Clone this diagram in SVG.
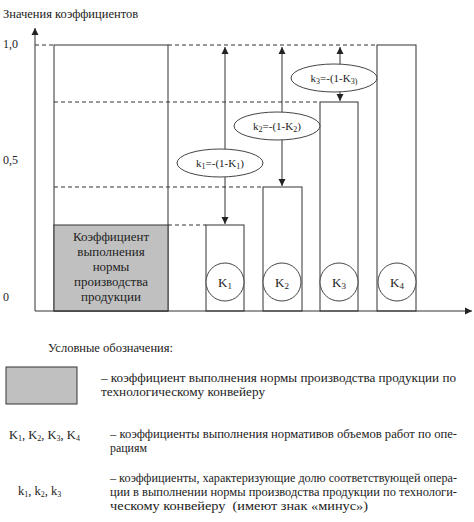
<svg xmlns="http://www.w3.org/2000/svg" width="474" height="522" viewBox="0 0 474 522" font-family="'Liberation Serif', 'Times New Roman', serif">
<style>
text{fill:#222}
.bx{stroke:#333;stroke-width:1;fill:#fff}
.ds{stroke:#333;stroke-width:1;stroke-dasharray:4,3;fill:none}
.ar{stroke:#333;stroke-width:1;fill:none;marker-end:url(#ah)}
.el{stroke:#444;stroke-width:1;fill:#fff}
.lab{font-size:11px;text-anchor:middle}
.kc{font-size:13px;text-anchor:middle}
.lg{font-size:12px}
</style>
<defs>
<marker id="ah" markerWidth="8" markerHeight="8" refX="7" refY="4" orient="auto" markerUnits="userSpaceOnUse">
<path d="M0,0.5 L7,4 L0,7.5 Z" fill="#222"/>
</marker>
</defs>
<rect width="474" height="522" fill="#fff"/>
<g id="axes">
<text x="3" y="18" font-size="12.5">Значения коэффициентов</text>
<text x="3" y="48" font-size="12">1,0</text>
<text x="3" y="164" font-size="12">0,5</text>
<text x="3" y="301" font-size="12">0</text>
</g>
<g id="main-box">
<rect x="54" y="45" width="114" height="266" class="bx"/>
<rect x="54" y="225" width="114" height="86" fill="#c0c0c0" stroke="#333"/>
<text x="111" y="241" class="kc">Коэффициент</text>
<text x="111" y="256" class="kc">выполнения</text>
<text x="111" y="271" class="kc">нормы</text>
<text x="111" y="286" class="kc">производства</text>
<text x="111" y="301" class="kc">продукции</text>
</g>
<g id="bar-K1"><rect x="206" y="225" width="38" height="86" class="bx"/></g>
<g id="bar-K2"><rect x="263" y="187" width="39" height="124" class="bx"/></g>
<g id="bar-K3"><rect x="320" y="102" width="38" height="209" class="bx"/></g>
<g id="bar-K4"><rect x="377" y="45" width="39" height="266" class="bx"/></g>
<g id="connectors">
<line x1="35" y1="311" x2="35" y2="28" class="ar"/>
<line x1="35" y1="311" x2="472" y2="311" class="ar"/>
<line x1="35" y1="45" x2="54" y2="45" class="ds"/>
<line x1="168" y1="45" x2="377" y2="45" class="ds"/>
<line x1="54" y1="102" x2="320" y2="102" class="ds"/>
<line x1="54" y1="187" x2="263" y2="187" class="ds"/>
<line x1="168" y1="225" x2="206" y2="225" class="ds"/>
<line x1="225" y1="149" x2="225" y2="47" class="ar"/>
<line x1="225" y1="177" x2="225" y2="224" class="ar"/>
<line x1="282" y1="112" x2="282" y2="47" class="ar"/>
<line x1="282" y1="140" x2="282" y2="186" class="ar"/>
<line x1="340" y1="64" x2="340" y2="47" class="ar"/>
<line x1="340" y1="92" x2="340" y2="101" class="ar"/>
</g>
<g id="k1-label"><ellipse cx="220" cy="163" rx="43" ry="14" class="el"/><text x="220" y="167" class="lab">k<tspan font-size="8" dy="2">1</tspan><tspan dy="-2">=-(1-K</tspan><tspan font-size="8" dy="2">1</tspan><tspan dy="-2">)</tspan></text></g>
<g id="k2-label"><ellipse cx="277" cy="126" rx="43" ry="14" class="el"/><text x="277" y="130" class="lab">k<tspan font-size="8" dy="2">2</tspan><tspan dy="-2">=-(1-K</tspan><tspan font-size="8" dy="2">2</tspan><tspan dy="-2">)</tspan></text></g>
<g id="k3-label"><ellipse cx="334" cy="78" rx="43" ry="14" class="el"/><text x="334" y="82" class="lab">k<tspan font-size="8" dy="2">3</tspan><tspan dy="-2">=-(1-K</tspan><tspan font-size="8" dy="2">3)</tspan></text></g>
<g id="circle-K1"><circle cx="225" cy="282" r="19" class="el"/><text x="225" y="287" class="kc">K<tspan font-size="9" dy="2">1</tspan></text></g>
<g id="circle-K2"><circle cx="282" cy="282" r="19" class="el"/><text x="282" y="287" class="kc">K<tspan font-size="9" dy="2">2</tspan></text></g>
<g id="circle-K3"><circle cx="339" cy="282" r="19" class="el"/><text x="339" y="287" class="kc">K<tspan font-size="9" dy="2">3</tspan></text></g>
<g id="circle-K4"><circle cx="397" cy="282" r="19" class="el"/><text x="397" y="287" class="kc">K<tspan font-size="9" dy="2">4</tspan></text></g>
<g id="legend">
<text x="48" y="352" font-size="12.5">Условные обозначения:</text>
<rect x="6" y="367" width="71" height="37" fill="#c0c0c0" stroke="#333"/>
<text x="101" y="382" class="lg" textLength="355" lengthAdjust="spacingAndGlyphs">– коэффициент выполнения нормы производства продукции по</text>
<text x="101" y="396" class="lg" textLength="164" lengthAdjust="spacingAndGlyphs">технологическому конвейеру</text>
<text x="9" y="439" font-size="12.5">K<tspan font-size="8" dy="2">1</tspan><tspan dy="-2">, K</tspan><tspan font-size="8" dy="2">2</tspan><tspan dy="-2">, K</tspan><tspan font-size="8" dy="2">3</tspan><tspan dy="-2">, K</tspan><tspan font-size="8" dy="2">4</tspan></text>
<text x="110" y="438" class="lg" textLength="347" lengthAdjust="spacingAndGlyphs">– коэффициенты выполнения нормативов объемов работ по опе-</text>
<text x="110" y="452" class="lg" textLength="37" lengthAdjust="spacingAndGlyphs">рациям</text>
<text x="18" y="495" font-size="12.5">k<tspan font-size="8" dy="2">1</tspan><tspan dy="-2">, k</tspan><tspan font-size="8" dy="2">2</tspan><tspan dy="-2">, k</tspan><tspan font-size="8" dy="2">3</tspan></text>
<text x="110" y="482" class="lg" textLength="347" lengthAdjust="spacingAndGlyphs">– коэффициенты, характеризующие долю соответствующей опера-</text>
<text x="110" y="496" class="lg" textLength="347" lengthAdjust="spacingAndGlyphs">ции в выполнении нормы производства продукции по технологи-</text>
<text x="110" y="510" class="lg" xml:space="preserve" textLength="258" lengthAdjust="spacingAndGlyphs">ческому конвейеру  (имеют знак «минус»)</text>
</g>
</svg>
